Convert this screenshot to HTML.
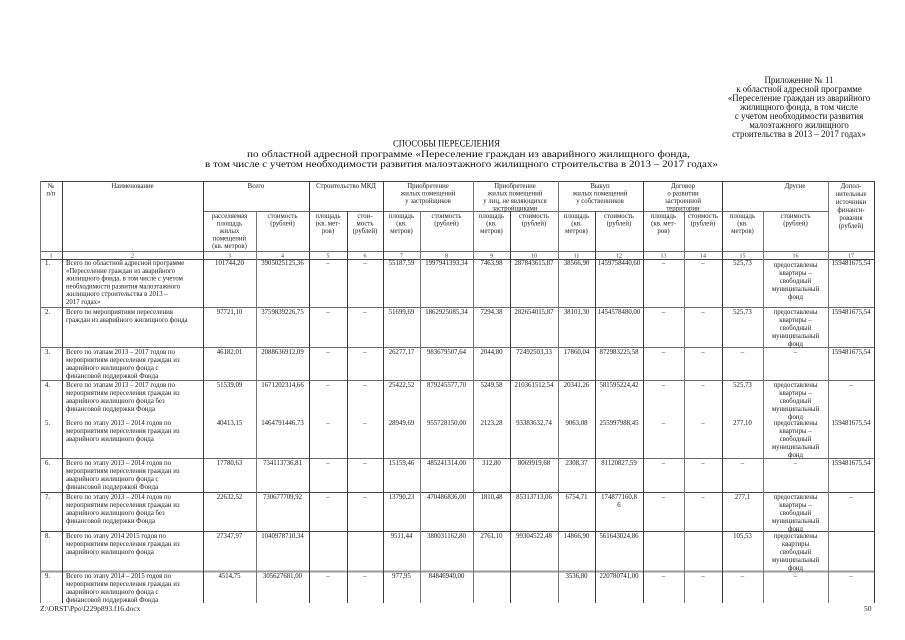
<!DOCTYPE html>
<html><head><meta charset="utf-8">
<style>
html,body{margin:0;padding:0;background:#fff;}
svg{display:block;}
text{font-family:"Liberation Serif","Noto Serif CJK SC",serif;fill:#111;}
.a{font-size:8.9px;text-anchor:middle;}
.h{font-size:6.8px;text-anchor:middle;fill:#1a1a1a;}
.n{font-size:6px;text-anchor:middle;fill:#333;}
.d{font-size:6.8px;text-anchor:middle;fill:#151515;}
.l{font-size:6.8px;fill:#151515;}
.f{font-size:7.5px;fill:#1a1a1a;}
</style></head><body>
<svg width="905" height="640" viewBox="0 0 905 640" xmlns="http://www.w3.org/2000/svg">
<rect width="905" height="640" fill="#fff"/>
<!-- Appendix -->
<text class="a" x="799" y="83">Приложение № 11</text>
<text class="a" x="799" y="92">к областной адресной программе</text>
<text class="a" x="799" y="101">«Переселение граждан из аварийного</text>
<text class="a" x="799" y="110">жилищного фонда, в том числе</text>
<text class="a" x="799" y="119">с учетом необходимости развития</text>
<text class="a" x="799" y="128">малоэтажного жилищного</text>
<text class="a" x="799" y="137">строительства в 2013 – 2017 годах»</text>
<!-- Title -->
<text x="393" y="146.5" font-size="9.5" textLength="107" lengthAdjust="spacingAndGlyphs">СПОСОБЫ ПЕРЕСЕЛЕНИЯ</text>
<text x="247" y="157" font-size="9.5" textLength="443" lengthAdjust="spacingAndGlyphs">по областной адресной программе «Переселение граждан из аварийного жилищного фонда,</text>
<text x="205" y="167" font-size="9.5" textLength="513" lengthAdjust="spacingAndGlyphs">в том числе с учетом необходимости развития малоэтажного жилищного строительства в 2013 – 2017 годах»</text>

<!-- Table lines -->
<g stroke="#6a6a6a" stroke-width="1" fill="none">
<line x1="40" y1="181.5" x2="874" y2="181.5" stroke="#444"/>
<line x1="203" y1="211.5" x2="828" y2="211.5"/>
<line x1="40" y1="251.5" x2="874" y2="251.5"/>
<line x1="40" y1="259.5" x2="874" y2="259.5" stroke="#444"/>
<line x1="40" y1="307.5" x2="874" y2="307.5"/>
<line x1="40" y1="347.5" x2="874" y2="347.5"/>
<line x1="40" y1="380.5" x2="874" y2="380.5"/>
<line x1="40" y1="458.5" x2="874" y2="458.5"/>
<line x1="40" y1="492.5" x2="874" y2="492.5" stroke="#444"/>
<line x1="40" y1="531.5" x2="874" y2="531.5" stroke="#444"/>
<line x1="40" y1="571.5" x2="874" y2="571.5" stroke="#999" stroke-width="2"/>
</g>
<g stroke="#3a3a3a" stroke-width="1">
<line x1="40.5" y1="181" x2="40.5" y2="603" stroke="#777"/>
<line x1="62.5" y1="181" x2="62.5" y2="603"/>
<line x1="203.5" y1="181" x2="203.5" y2="603"/>
<line x1="309.5" y1="181" x2="309.5" y2="603"/>
<line x1="383.5" y1="181" x2="383.5" y2="603"/>
<line x1="473.5" y1="181" x2="473.5" y2="603" stroke="#777"/>
<line x1="558.5" y1="181" x2="558.5" y2="603" stroke="#777"/>
<line x1="643.5" y1="181" x2="643.5" y2="603"/>
<line x1="722.5" y1="181" x2="722.5" y2="603"/>
<line x1="828.5" y1="181" x2="828.5" y2="603" stroke="#777"/>
<line x1="874.5" y1="181" x2="874.5" y2="603"/>
<line x1="256.5" y1="211" x2="256.5" y2="603" stroke="#777"/>
<line x1="347.5" y1="211" x2="347.5" y2="603"/>
<line x1="420.5" y1="211" x2="420.5" y2="603" stroke="#777"/>
<line x1="510.5" y1="211" x2="510.5" y2="603"/>
<line x1="595.5" y1="211" x2="595.5" y2="603"/>
<line x1="684.5" y1="211" x2="684.5" y2="603" stroke="#777"/>
<line x1="763.5" y1="211" x2="763.5" y2="603" stroke="#777"/>
</g>

<!-- Group headers -->
<text class="h" x="51" y="188">№</text>
<text class="h" x="51" y="195.5">п/п</text>
<text class="h" x="132.5" y="188">Наименование</text>
<text class="h" x="256" y="188">Всего</text>
<text class="h" x="346" y="188">Строительство МКД</text>
<text class="h" x="428" y="188">Приобретение</text>
<text class="h" x="428" y="195.5">жилых помещений</text>
<text class="h" x="428" y="203">у застройщиков</text>
<text class="h" x="515" y="188">Приобретение</text>
<text class="h" x="515" y="195.5">жилых помещений</text>
<text class="h" x="515" y="203">у лиц, не являющихся</text>
<text class="h" x="515" y="210.5">застройщиками</text>
<text class="h" x="600" y="188">Выкуп</text>
<text class="h" x="600" y="195.5">жилых помещений</text>
<text class="h" x="600" y="203">у собственников</text>
<text class="h" x="683" y="188">Договор</text>
<text class="h" x="683" y="195.5">о развитии</text>
<text class="h" x="683" y="203">застроенной</text>
<text class="h" x="683" y="210.5">территории</text>
<text class="h" x="795" y="188">Другие</text>
<text class="h" x="851" y="188">Допол-</text>
<text class="h" x="851" y="196">нительные</text>
<text class="h" x="851" y="204">источники</text>
<text class="h" x="851" y="212">финанси-</text>
<text class="h" x="851" y="220">рования</text>
<text class="h" x="851" y="228">(рублей)</text>

<!-- Sub headers -->
<text class="h" x="229.5" y="218">расселяемая</text>
<text class="h" x="229.5" y="225.5">площадь</text>
<text class="h" x="229.5" y="233">жилых</text>
<text class="h" x="229.5" y="240.5">помещений</text>
<text class="h" x="229.5" y="248">(кв. метров)</text>
<text class="h" x="282.5" y="218">стоимость</text>
<text class="h" x="282.5" y="225.5">(рублей)</text>
<text class="h" x="328" y="218">площадь</text>
<text class="h" x="328" y="225.5">(кв. мет-</text>
<text class="h" x="328" y="233">ров)</text>
<text class="h" x="365" y="218">стои-</text>
<text class="h" x="365" y="225.5">мость</text>
<text class="h" x="365" y="233">(рублей)</text>
<text class="h" x="401.5" y="218">площадь</text>
<text class="h" x="401.5" y="225.5">(кв.</text>
<text class="h" x="401.5" y="233">метров)</text>
<text class="h" x="446.5" y="218">стоимость</text>
<text class="h" x="446.5" y="225.5">(рублей)</text>
<text class="h" x="491.5" y="218">площадь</text>
<text class="h" x="491.5" y="225.5">(кв.</text>
<text class="h" x="491.5" y="233">метров)</text>
<text class="h" x="534" y="218">стоимость</text>
<text class="h" x="534" y="225.5">(рублей)</text>
<text class="h" x="576.5" y="218">площадь</text>
<text class="h" x="576.5" y="225.5">(кв.</text>
<text class="h" x="576.5" y="233">метров)</text>
<text class="h" x="619" y="218">стоимость</text>
<text class="h" x="619" y="225.5">(рублей)</text>
<text class="h" x="663.5" y="218">площадь</text>
<text class="h" x="663.5" y="225.5">(кв. мет-</text>
<text class="h" x="663.5" y="233">ров)</text>
<text class="h" x="703" y="218">стоимость</text>
<text class="h" x="703" y="225.5">(рублей)</text>
<text class="h" x="742.5" y="218">площадь</text>
<text class="h" x="742.5" y="225.5">(кв.</text>
<text class="h" x="742.5" y="233">метров)</text>
<text class="h" x="795.5" y="218">стоимость</text>
<text class="h" x="795.5" y="225.5">(рублей)</text>

<!-- Number row -->
<text class="n" x="51" y="257.5">1</text>
<text class="n" x="132.5" y="257.5">2</text>
<text class="n" x="229.5" y="257.5">3</text>
<text class="n" x="282.5" y="257.5">4</text>
<text class="n" x="328" y="257.5">5</text>
<text class="n" x="365" y="257.5">6</text>
<text class="n" x="401.5" y="257.5">7</text>
<text class="n" x="446.5" y="257.5">8</text>
<text class="n" x="491.5" y="257.5">9</text>
<text class="n" x="534" y="257.5">10</text>
<text class="n" x="576.5" y="257.5">11</text>
<text class="n" x="619" y="257.5">12</text>
<text class="n" x="663.5" y="257.5">13</text>
<text class="n" x="703" y="257.5">14</text>
<text class="n" x="742.5" y="257.5">15</text>
<text class="n" x="795.5" y="257.5">16</text>
<text class="n" x="851" y="257.5">17</text>

<!-- Row 1 -->
<text class="l" x="45" y="265">1.</text>
<text class="l" x="66" y="265">Всего по областной адресной программе</text>
<text class="l" x="66" y="272.8">«Переселение граждан из аварийного</text>
<text class="l" x="66" y="280.6">жилищного фонда, в том числе с учетом</text>
<text class="l" x="66" y="288.4">необходимости развития малоэтажного</text>
<text class="l" x="66" y="296.2">жилищного строительства в 2013 –</text>
<text class="l" x="66" y="304">2017 годах»</text>
<text class="d" x="229.5" y="265">101744,20</text>
<text class="d" x="282.5" y="265">3905025125,36</text>
<text class="d" x="328" y="265">–</text>
<text class="d" x="365" y="265">–</text>
<text class="d" x="401.5" y="265">55187,59</text>
<text class="d" x="446.5" y="265">1997941393,34</text>
<text class="d" x="491.5" y="265">7463,98</text>
<text class="d" x="534" y="265">287843615,87</text>
<text class="d" x="576.5" y="265">38566,90</text>
<text class="d" x="619" y="265">1459758440,60</text>
<text class="d" x="663.5" y="265">–</text>
<text class="d" x="703" y="265">–</text>
<text class="d" x="742.5" y="265">525,73</text>
<text class="d" x="795.5" y="267">предоставлены</text>
<text class="d" x="795.5" y="275">квартиры –</text>
<text class="d" x="795.5" y="283">свободный</text>
<text class="d" x="795.5" y="291">муниципальный</text>
<text class="d" x="795.5" y="299">фонд</text>
<text class="d" x="851" y="265">159481675,54</text>

<!-- Row 2 -->
<text class="l" x="45" y="314">2.</text>
<text class="l" x="66" y="314">Всего по мероприятиям переселения</text>
<text class="l" x="66" y="322">граждан из аварийного жилищного фонда</text>
<text class="d" x="229.5" y="314">97721,10</text>
<text class="d" x="282.5" y="314">3759839226,75</text>
<text class="d" x="328" y="314">–</text>
<text class="d" x="365" y="314">–</text>
<text class="d" x="401.5" y="314">51699,69</text>
<text class="d" x="446.5" y="314">1862925085,34</text>
<text class="d" x="491.5" y="314">7294,38</text>
<text class="d" x="534" y="314">282654015,87</text>
<text class="d" x="576.5" y="314">38101,30</text>
<text class="d" x="619" y="314">1454578480,00</text>
<text class="d" x="663.5" y="314">–</text>
<text class="d" x="703" y="314">–</text>
<text class="d" x="742.5" y="314">525,73</text>
<text class="d" x="795.5" y="314">предоставлены</text>
<text class="d" x="795.5" y="322">квартиры –</text>
<text class="d" x="795.5" y="330">свободный</text>
<text class="d" x="795.5" y="338">муниципальный</text>
<text class="d" x="795.5" y="346">фонд</text>
<text class="d" x="851" y="314">159481675,54</text>

<!-- Row 3 -->
<text class="l" x="45" y="354">3.</text>
<text class="l" x="66" y="354">Всего по этапам 2013 – 2017 годов  по</text>
<text class="l" x="66" y="362">мероприятиям переселения граждан из</text>
<text class="l" x="66" y="370">аварийного жилищного фонда с</text>
<text class="l" x="66" y="378">финансовой поддержкой Фонда</text>
<text class="d" x="229.5" y="354">46182,01</text>
<text class="d" x="282.5" y="354">2088636912,09</text>
<text class="d" x="328" y="354">–</text>
<text class="d" x="365" y="354">–</text>
<text class="d" x="401.5" y="354">26277,17</text>
<text class="d" x="446.5" y="354">983679507,64</text>
<text class="d" x="491.5" y="354">2044,80</text>
<text class="d" x="534" y="354">72492503,33</text>
<text class="d" x="576.5" y="354">17860,04</text>
<text class="d" x="619" y="354">872983225,58</text>
<text class="d" x="663.5" y="354">–</text>
<text class="d" x="703" y="354">–</text>
<text class="d" x="742.5" y="354">–</text>
<text class="d" x="795.5" y="354">–</text>
<text class="d" x="851" y="354">159481675,54</text>

<!-- Row 4 -->
<text class="l" x="45" y="387">4.</text>
<text class="l" x="66" y="387">Всего по этапам 2013 – 2017 годов  по</text>
<text class="l" x="66" y="395">мероприятиям переселения граждан из</text>
<text class="l" x="66" y="403">аварийного жилищного фонда без</text>
<text class="l" x="66" y="411">финансовой поддержки Фонда</text>
<text class="d" x="229.5" y="387">51539,09</text>
<text class="d" x="282.5" y="387">1671202314,66</text>
<text class="d" x="328" y="387">–</text>
<text class="d" x="365" y="387">–</text>
<text class="d" x="401.5" y="387">25422,52</text>
<text class="d" x="446.5" y="387">879245577,70</text>
<text class="d" x="491.5" y="387">5249,58</text>
<text class="d" x="534" y="387">210361512,54</text>
<text class="d" x="576.5" y="387">20341,26</text>
<text class="d" x="619" y="387">581595224,42</text>
<text class="d" x="663.5" y="387">–</text>
<text class="d" x="703" y="387">–</text>
<text class="d" x="742.5" y="387">525,73</text>
<text class="d" x="795.5" y="387">предоставлены</text>
<text class="d" x="795.5" y="395">квартиры –</text>
<text class="d" x="795.5" y="403">свободный</text>
<text class="d" x="795.5" y="411">муниципальный</text>
<text class="d" x="795.5" y="419">фонд</text>
<text class="d" x="851" y="387">–</text>

<!-- Row 5 -->
<text class="l" x="45" y="425">5.</text>
<text class="l" x="66" y="425">Всего по этапу 2013 – 2014 годов  по</text>
<text class="l" x="66" y="433">мероприятиям переселения граждан из</text>
<text class="l" x="66" y="441">аварийного жилищного фонда</text>
<text class="d" x="229.5" y="425">40413,15</text>
<text class="d" x="282.5" y="425">1464791446,73</text>
<text class="d" x="328" y="425">–</text>
<text class="d" x="365" y="425">–</text>
<text class="d" x="401.5" y="425">28949,69</text>
<text class="d" x="446.5" y="425">955728150,00</text>
<text class="d" x="491.5" y="425">2123,28</text>
<text class="d" x="534" y="425">93383632,74</text>
<text class="d" x="576.5" y="425">9063,08</text>
<text class="d" x="619" y="425">255997988,45</text>
<text class="d" x="663.5" y="425">–</text>
<text class="d" x="703" y="425">–</text>
<text class="d" x="742.5" y="425">277,10</text>
<text class="d" x="795.5" y="425">предоставлены</text>
<text class="d" x="795.5" y="433">квартиры –</text>
<text class="d" x="795.5" y="441">свободный</text>
<text class="d" x="795.5" y="449">муниципальный</text>
<text class="d" x="795.5" y="457">фонд</text>
<text class="d" x="851" y="425">159481675,54</text>

<!-- Row 6 -->
<text class="l" x="45" y="465">6.</text>
<text class="l" x="66" y="465">Всего по этапу 2013 – 2014 годов  по</text>
<text class="l" x="66" y="473">мероприятиям переселения граждан из</text>
<text class="l" x="66" y="481">аварийного жилищного фонда с</text>
<text class="l" x="66" y="489">финансовой поддержкой Фонда</text>
<text class="d" x="229.5" y="465">17780,63</text>
<text class="d" x="282.5" y="465">734113736,81</text>
<text class="d" x="328" y="465">–</text>
<text class="d" x="365" y="465">–</text>
<text class="d" x="401.5" y="465">15159,46</text>
<text class="d" x="446.5" y="465">485241314,00</text>
<text class="d" x="491.5" y="465">312,80</text>
<text class="d" x="534" y="465">8069919,68</text>
<text class="d" x="576.5" y="465">2308,37</text>
<text class="d" x="619" y="465">81120827,59</text>
<text class="d" x="663.5" y="465">–</text>
<text class="d" x="703" y="465">–</text>
<text class="d" x="742.5" y="465">–</text>
<text class="d" x="795.5" y="465">–</text>
<text class="d" x="851" y="465">159481675,54</text>

<!-- Row 7 -->
<text class="l" x="45" y="499">7.</text>
<text class="l" x="66" y="499">Всего по этапу 2013 – 2014 годов  по</text>
<text class="l" x="66" y="507">мероприятиям переселения граждан из</text>
<text class="l" x="66" y="515">аварийного жилищного фонда без</text>
<text class="l" x="66" y="523">финансовой поддержки Фонда</text>
<text class="d" x="229.5" y="499">22632,52</text>
<text class="d" x="282.5" y="499">730677709,92</text>
<text class="d" x="328" y="499">–</text>
<text class="d" x="365" y="499">–</text>
<text class="d" x="401.5" y="499">13790,23</text>
<text class="d" x="446.5" y="499">470486836,00</text>
<text class="d" x="491.5" y="499">1810,48</text>
<text class="d" x="534" y="499">85313713,06</text>
<text class="d" x="576.5" y="499">6754,71</text>
<text class="d" x="619" y="499">174877160,8</text>
<text class="d" x="619" y="507">6</text>
<text class="d" x="663.5" y="499">–</text>
<text class="d" x="703" y="499">–</text>
<text class="d" x="742.5" y="499">277,1</text>
<text class="d" x="795.5" y="499">предоставлены</text>
<text class="d" x="795.5" y="507">квартиры –</text>
<text class="d" x="795.5" y="515">свободный</text>
<text class="d" x="795.5" y="523">муниципальный</text>
<text class="d" x="795.5" y="531">фонд</text>
<text class="d" x="851" y="499">–</text>

<!-- Row 8 -->
<text class="l" x="45" y="538">8.</text>
<text class="l" x="66" y="538">Всего по этапу 2014   2015 годов  по</text>
<text class="l" x="66" y="546">мероприятиям переселения граждан из</text>
<text class="l" x="66" y="554">аварийного жилищного фонда</text>
<text class="d" x="229.5" y="538">27347,97</text>
<text class="d" x="282.5" y="538">1040978710,34</text>
<text class="d" x="401.5" y="538">9511,44</text>
<text class="d" x="446.5" y="538">380031162,80</text>
<text class="d" x="491.5" y="538">2761,10</text>
<text class="d" x="534" y="538">99304522,48</text>
<text class="d" x="576.5" y="538">14866,90</text>
<text class="d" x="619" y="538">561643024,86</text>
<text class="d" x="742.5" y="538">105,53</text>
<text class="d" x="795.5" y="538">предоставлены</text>
<text class="d" x="795.5" y="546">квартиры</text>
<text class="d" x="795.5" y="554">свободный</text>
<text class="d" x="795.5" y="562">муниципальный</text>
<text class="d" x="795.5" y="570">фонд</text>

<!-- Row 9 -->
<text class="l" x="45" y="578">9.</text>
<text class="l" x="66" y="578">Всего по этапу 2014 – 2015 годов  по</text>
<text class="l" x="66" y="586">мероприятиям переселения граждан из</text>
<text class="l" x="66" y="594">аварийного жилищного фонда с</text>
<text class="l" x="66" y="602">финансовой поддержкой Фонда</text>
<text class="d" x="229.5" y="578">4514,75</text>
<text class="d" x="282.5" y="578">305627681,00</text>
<text class="d" x="328" y="578">–</text>
<text class="d" x="365" y="578">–</text>
<text class="d" x="401.5" y="578">977,95</text>
<text class="d" x="446.5" y="578">84846940,00</text>
<text class="d" x="576.5" y="578">3536,80</text>
<text class="d" x="619" y="578">220780741,00</text>
<text class="d" x="663.5" y="578">–</text>
<text class="d" x="703" y="578">–</text>
<text class="d" x="742.5" y="578">–</text>
<text class="d" x="795.5" y="578">–</text>
<text class="d" x="851" y="578">–</text>

<!-- Footer -->
<text class="f" x="40" y="611">Z:\ORST\Ppo\l229p893.f16.docx</text>
<text class="f" x="864" y="611">50</text>
</svg>
</body></html>
